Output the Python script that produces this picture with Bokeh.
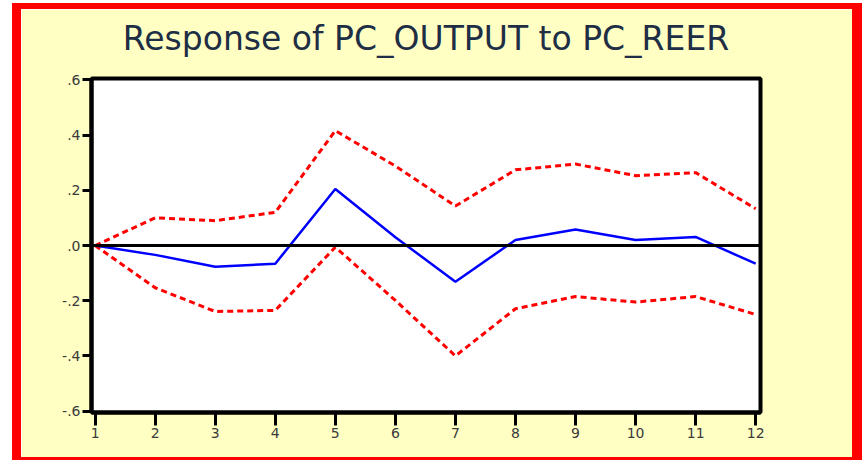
from bokeh.plotting import figure
from bokeh.models import FixedTicker, Span, Title
from bokeh.embed import file_html
from bokeh.resources import INLINE

# Impulse response of PC_OUTPUT to a PC_REER shock, with +/- 2 s.e. bands
periods = [1, 2, 3, 4, 5, 6, 7, 8, 9, 10, 11, 12]
response = [0.0, -0.034, -0.077, -0.066, 0.205, 0.03, -0.131, 0.02, 0.058, 0.02, 0.031, -0.066]
upper_band = [0.0, 0.10, 0.09, 0.12, 0.416, 0.288, 0.143, 0.274, 0.295, 0.253, 0.264, 0.133]
lower_band = [0.0, -0.153, -0.239, -0.235, -0.006, -0.199, -0.40, -0.229, -0.185, -0.205, -0.185, -0.25]

y_ticks = [-0.6, -0.4, -0.2, 0.0, 0.2, 0.4, 0.6]
y_tick_labels = ["-.6", "-.4", "-.2", ".0", ".2", ".4", ".6"]
x_tick_labels = [str(v) for v in periods]
title_text = "Response of PC_OUTPUT to PC_REER"

BG = "#FFFFC4"

p = figure(
    width=850, height=457,
    x_range=(0.94, 12.08), y_range=(-0.605, 0.605),
    output_backend="svg", toolbar_location=None,
    background_fill_color="white", border_fill_color=BG,
    min_border_left=70, min_border_right=111, min_border_top=67, min_border_bottom=54,
    title=title_text,
)
p.margin = (3, 0, 0, 12)
p.styles = {
    "border-style": "solid",
    "border-color": "#FF0000",
    "border-width": "6px 10px 3px 9px",
    "box-sizing": "border-box",
}

p.title.align = "center"
p.title.text_font = "DejaVu Sans"
p.title.text_font_size = "33px"
p.title.text_font_style = "normal"
p.title.text_color = "#1E2E44"
p.title.standoff = 14

# thin blank band between the heading and the frame
p.add_layout(Title(text=" ", text_font_size="4px", standoff=7), "above")

p.outline_line_color = "black"
p.outline_line_width = 4
p.outline_line_alpha = 1
p.grid.visible = False

p.add_layout(Span(location=0, dimension="width", line_color="black", line_width=3))

p.line(periods, upper_band, line_color="#FF0000", line_width=3, line_dash="6 4")
p.line(periods, lower_band, line_color="#FF0000", line_width=3, line_dash="6 4")
p.line(periods, response, line_color="#0000FF", line_width=2.5)

p.xaxis.ticker = FixedTicker(ticks=periods)
p.xaxis.major_label_overrides = {v: s for v, s in zip(periods, x_tick_labels)}
p.yaxis.ticker = FixedTicker(ticks=y_ticks)
p.yaxis.major_label_overrides = {v: s for v, s in zip(y_ticks, y_tick_labels)}

for ax in (p.xaxis[0], p.yaxis[0]):
    ax.axis_line_color = "black"
    ax.axis_line_width = 4
    ax.major_tick_line_color = "black"
    ax.major_tick_line_width = 3
    ax.major_tick_in = 0
    ax.minor_tick_line_color = None
    ax.major_label_text_font = "DejaVu Sans"
    ax.major_label_text_font_size = "14px"
    ax.major_label_text_color = "#3A3A3A"
    ax.major_label_text_font_style = "normal"

p.xaxis.major_tick_out = 13
p.xaxis.major_label_standoff = 2
p.yaxis.major_tick_out = 9
p.yaxis.major_label_standoff = 2

open("out.html", "w").write(file_html(p, INLINE))
